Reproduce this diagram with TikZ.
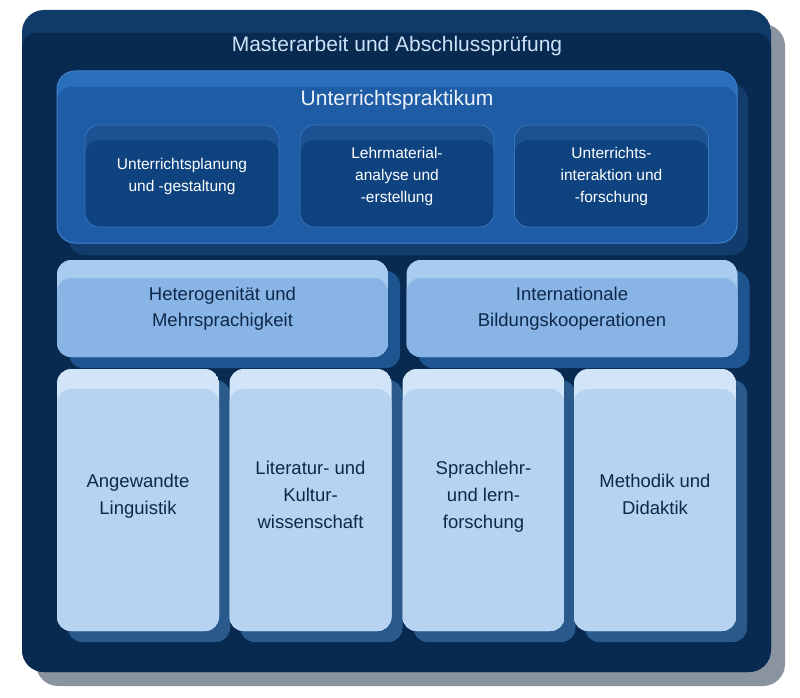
\documentclass[tikz,border=0pt]{standalone}
\usepackage{fontspec}
\setmainfont{Liberation Sans}
\usepackage{xcolor}
\usetikzlibrary{shadows}
\definecolor{navy}{RGB}{8,42,80}
\definecolor{navyband}{RGB}{16,58,104}
\definecolor{shadowgray}{RGB}{138,148,160}
\definecolor{praxisblue}{RGB}{30,92,165}
\definecolor{praxisband}{RGB}{42,110,188}
\definecolor{praxisline}{RGB}{62,128,204}
\definecolor{praxisshadow}{RGB}{18,60,110}
\definecolor{moduleblue}{RGB}{14,67,128}
\definecolor{moduleband}{RGB}{26,82,146}
\definecolor{moduleline}{RGB}{56,116,190}
\definecolor{focusblue}{RGB}{136,181,230}
\definecolor{focusband}{RGB}{168,203,240}
\definecolor{focusshadow}{RGB}{30,84,144}
\definecolor{baseblue}{RGB}{182,212,242}
\definecolor{baseband}{RGB}{210,228,248}
\definecolor{baseshadow}{RGB}{42,90,140}
\definecolor{darktext}{RGB}{14,40,74}
\definecolor{lighttext}{RGB}{204,226,248}
\tikzset{gloss/.style n args={3}{path picture={
	\fill[#1] (path picture bounding box.north west) rectangle (path picture bounding box.south east);
	\fill[#2, rounded corners=14pt] ([yshift=-#3]path picture bounding box.north west) rectangle ([yshift=-40pt]path picture bounding box.south east);
	}}}
\tikzstyle{panel}=[rectangle, inner sep=0pt, align=center]
\tikzstyle{master}=[panel, rounded corners=22pt, minimum width=749pt, minimum height=662pt, drop shadow={shadow xshift=14pt, shadow yshift=-14pt, fill=shadowgray, opacity=1}, gloss={navyband}{navy}{23pt}]
\tikzstyle{praxis}=[panel, rounded corners=18pt, minimum width=680pt, minimum height=172pt, draw=praxisline, line width=1pt, drop shadow={shadow xshift=11pt, shadow yshift=-12pt, fill=praxisshadow, opacity=1}, gloss={praxisband}{praxisblue}{16pt}]
\tikzstyle{module}=[panel, rounded corners=14pt, minimum width=194pt, minimum height=102pt, draw=moduleline, line width=0.8pt, gloss={moduleband}{moduleblue}{15pt}, text=white, font=\fontsize{15.5}{22}\selectfont]
\tikzstyle{focus}=[panel, rounded corners=14pt, minimum width=331pt, minimum height=97pt, drop shadow={shadow xshift=12pt, shadow yshift=-11pt, fill=focusshadow, opacity=1}, gloss={focusband}{focusblue}{18pt}, text=darktext, font=\fontsize{18.5}{25.5}\selectfont]
\tikzstyle{basic}=[panel, rounded corners=14pt, minimum width=162pt, minimum height=262pt, text depth=11pt, drop shadow={shadow xshift=11pt, shadow yshift=-11pt, fill=baseshadow, opacity=1}, gloss={baseband}{baseblue}{20pt}, text=darktext, font=\fontsize{18.5}{27}\selectfont]
\tikzstyle{heading}=[inner sep=0pt, anchor=base, font=\fontsize{21}{25}\selectfont]

\begin{document}
\begin{tikzpicture}[x=1pt, y=-1pt]
\useasboundingbox (0,0) rectangle (800,698);
\node[master] (master) at (396.5,341) {};
\node[heading, text=lighttext] (mtitle) at (397,52) {Masterarbeit und Abschlussprüfung};
\node[praxis] (praxis) at (397,157) {};
\node[heading, text=white!92!praxisblue] (ptitle) at (397,106) {Unterrichtspraktikum};
\foreach \x/\name/\txt in {182/planung/{Unterrichtsplanung\\und -gestaltung}, 397/material/{Lehrmaterial-\\analyse und\\-erstellung}, 611.5/interaktion/{Unterrichts-\\interaktion und\\-forschung}}{
	\node[module] (\name) at (\x,176) {\txt};
	}
\node[focus] (hetero) at (222.5,308.5) {Heterogenität und\\Mehrsprachigkeit};
\node[focus] (koop) at (572,308.5) {Internationale\\Bildungskooperationen};
\foreach \x/\name/\txt in {138/ling/{Angewandte\\Linguistik}, 310.5/lit/{Literatur- und\\Kultur-\\wissenschaft}, 483.5/slf/{Sprachlehr-\\und lern-\\forschung}, 655/did/{Methodik und\\Didaktik}}{
	\node[basic] (\name) at (\x,500) {\txt};
	}
\end{tikzpicture}
\end{document}
